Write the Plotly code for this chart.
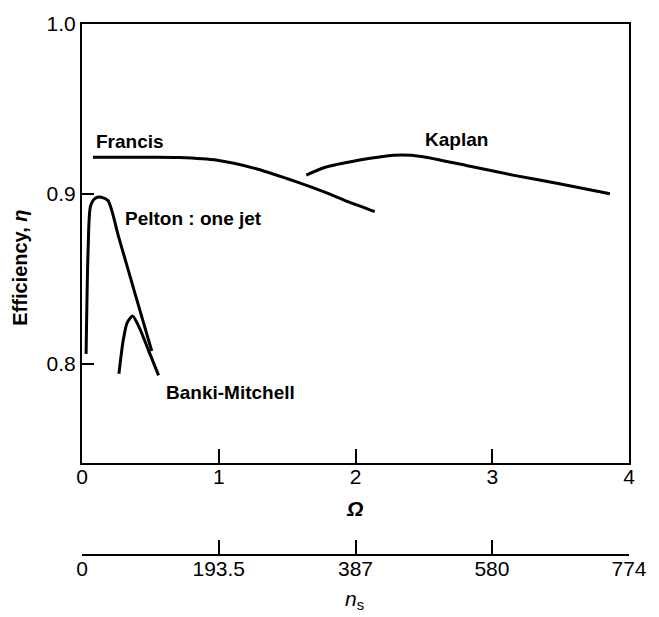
import plotly.graph_objects as go

# Specific speed Ω and efficiency η for each turbine type
francis_omega = [0.08, 0.5, 0.71, 0.99, 1.28, 1.57, 1.78, 1.95, 2.14]
francis_eta = [0.9215, 0.9215, 0.9213, 0.9197, 0.9146, 0.907, 0.9008, 0.8952, 0.8895]

kaplan_omega = [1.64, 1.78, 2.02, 2.2, 2.34, 2.48, 2.81, 3.15, 3.5, 3.86]
kaplan_eta = [0.911, 0.9156, 0.9197, 0.922, 0.9228, 0.922, 0.9167, 0.911, 0.9058, 0.900]

pelton_omega = [0.03, 0.045, 0.063, 0.1, 0.14, 0.19, 0.27, 0.39, 0.51]
pelton_eta = [0.8057, 0.868, 0.893, 0.8975, 0.898, 0.896, 0.874, 0.8406, 0.8074]

banki_omega = [0.27, 0.30, 0.33, 0.37, 0.42, 0.49, 0.56]
banki_eta = [0.794, 0.813, 0.824, 0.828, 0.821, 0.807, 0.793]

omega_ticks = [0, 1, 2, 3, 4]
eta_ticks = [0.8, 0.9, 1.0]
eta_ticktext = ["0.8", "0.9", "1.0"]
ns_ticks = [0, 193.5, 387, 580, 774]
ns_ticktext = ["0", "193.5", "387", "580", "774"]

curve_labels = [
    ("Francis", 0.085, 0.9309),
    ("Kaplan", 2.494, 0.9321),
    ("Pelton : one jet", 0.303, 0.8857),
    ("Banki-Mitchell", 0.599, 0.7830),
]

LABEL_FONT = "Liberation Sans"
INK = "black"

fig = go.Figure()
for xs, ys in [(francis_omega, francis_eta), (kaplan_omega, kaplan_eta),
               (pelton_omega, pelton_eta), (banki_omega, banki_eta)]:
    fig.add_trace(go.Scatter(x=xs, y=ys, mode="lines",
                             line=dict(color=INK, width=3, shape="spline", smoothing=0.7),
                             showlegend=False, hoverinfo="skip"))

# invisible trace so the n_s axis is rendered
fig.add_trace(go.Scatter(x=[0, 774], y=[0.75, 0.75], xaxis="x2", mode="markers",
                         marker=dict(opacity=0), showlegend=False, hoverinfo="skip"))

annotations = []
for text, x, y in curve_labels:
    annotations.append(dict(text=f"<b>{text}</b>", x=x, y=y, xref="x", yref="y",
                            xanchor="left", yanchor="middle", showarrow=False,
                            font=dict(family=LABEL_FONT, size=19, color=INK)))

annotations += [
    dict(text="<b>Efficiency, <i>η</i></b>", x=-0.1128, y=0.8566, xref="paper", yref="y",
         textangle=-90, showarrow=False, xanchor="center", yanchor="middle",
         font=dict(family=LABEL_FONT, size=20, color=INK)),
    dict(text="<b><i>Ω</i></b>", x=0.4986, y=(555 - 508) / 536, xref="paper",
         yref="paper", showarrow=False, xanchor="center", yanchor="middle",
         font=dict(family=LABEL_FONT, size=21, color=INK)),
    dict(text="<i>n</i><sub>s</sub>", x=0.4986, y=(555 - 600) / 536, xref="paper",
         yref="paper", showarrow=False, xanchor="center", yanchor="middle",
         font=dict(family=LABEL_FONT, size=21, color=INK)),
]

fig.update_layout(
    width=659, height=617,
    margin=dict(l=82, r=22, t=19, b=62),
    paper_bgcolor="white", plot_bgcolor="white",
    font=dict(family=LABEL_FONT, size=21, color=INK),
    annotations=annotations,
    xaxis=dict(range=[0, 4], tickvals=omega_ticks, ticks="inside", ticklen=14,
               tickwidth=2, tickcolor=INK, showline=True, linecolor=INK, linewidth=2,
               mirror=True, showgrid=False, zeroline=False, anchor="y",
               ticklabelstandoff=-6),
    yaxis=dict(range=[0.7415, 1.0], domain=[(555 - 462) / 536, 1.0], tickvals=eta_ticks,
               ticktext=eta_ticktext, ticks="inside", ticklen=12, tickwidth=2,
               tickcolor=INK, showline=True, linecolor=INK, linewidth=2, mirror=True,
               showgrid=False, zeroline=False, ticklabelstandoff=0),
    xaxis2=dict(range=[0, 774], tickvals=ns_ticks, ticktext=ns_ticktext, overlaying="x",
                anchor="free", position=0, side="bottom", ticks="inside", ticklen=14,
                tickwidth=2, tickcolor=INK, showline=True, linecolor=INK, linewidth=2,
                showgrid=False, zeroline=False, ticklabelstandoff=-5),
)

fig.write_html("out.html")
